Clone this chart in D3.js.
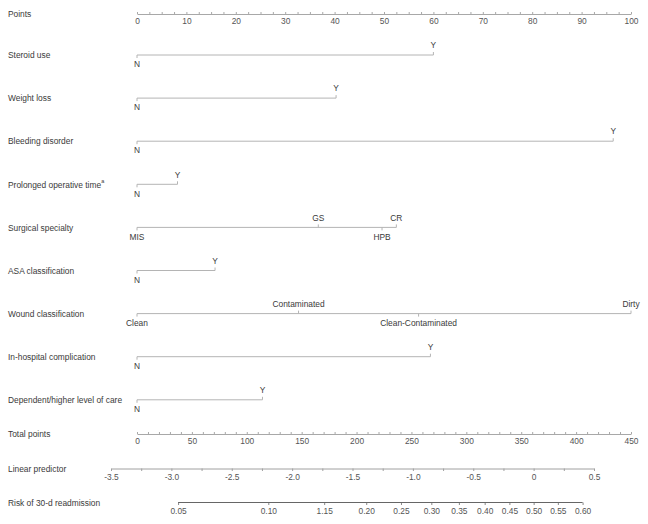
<!DOCTYPE html>
<html>
<head>
<meta charset="utf-8">
<script src="https://cdn.jsdelivr.net/npm/d3@7"></script>
<style>
  html, body { margin: 0; padding: 0; background: #fff; }
  svg { display: block; }
  text { font-family: "Liberation Sans", Arial, sans-serif; }
</style>
</head>
<body>
<svg id="chart" width="648" height="524"></svg>
<script>
// ---------- data ----------
const variableNames = [
  "Steroid use", "Weight loss", "Bleeding disorder", "Prolonged operative time",
  "Surgical specialty", "ASA classification", "Wound classification",
  "In-hospital complication", "Dependent/higher level of care"
];
const variableSuperscripts = ["", "", "", "a", "", "", "", "", ""];
const levelLabels = [
  ["N", "Y"], ["N", "Y"], ["N", "Y"], ["N", "Y"],
  ["MIS", "GS", "HPB", "CR"],
  ["N", "Y"],
  ["Clean", "Contaminated", "Clean-Contaminated", "Dirty"],
  ["N", "Y"], ["N", "Y"]
];
const levelPoints = [
  [0, 60], [0, 40.3], [0, 96.4], [0, 8.2],
  [0, 36.7, 49.6, 52.5],
  [0, 15.8],
  [0, 32.7, 57.0, 100],
  [0, 59.4], [0, 25.4]
];
const pointsTicks = d3.range(0, 100.01, 2.5);
const pointsLabels = d3.range(0, 101, 10);
const totalTicks = d3.range(0, 451, 10);
const totalLabels = d3.range(0, 451, 50);
const lpTicks = d3.range(-3.5, 0.51, 0.25);
const lpLabels = ["-3.5", "-3.0", "-2.5", "-2.0", "-1.5", "-1.0", "-0.5", "0", "0.5"];
const riskValues = [0.05, 0.10, 0.15, 0.20, 0.25, 0.30, 0.35, 0.40, 0.45, 0.50, 0.55, 0.60];
const riskLabels = ["0.05", "0.10", "1.15", "0.20", "0.25", "0.30", "0.35", "0.40", "0.45", "0.50", "0.55", "0.60"];

// ---------- layout ----------
const svg = d3.select("#chart");
const labelX = 8;
const fontSize = 8.4;
const textColor = "#3a3a3a";
const tickTextColor = "#555";
const lineColor = "#b4b4b4";

const xPoints = d3.scaleLinear().domain([0, 100]).range([137, 631]);
const xTotal = d3.scaleLinear().domain([0, 450]).range([137, 631]);
const xLP = d3.scaleLinear().domain([-3.5, 0.5]).range([111, 594]);
const logit = p => Math.log(p / (1 - p));

const yPointsAxis = 14;
const rowY0 = 55, rowStep = 43.1;
const yTotal = 434;
const yLP = 468.5;
const yRisk = 502.5;

function rowLabel(y, name, sup) {
  const t = svg.append("text")
    .attr("x", labelX).attr("y", y + 1)
    .attr("dominant-baseline", "middle")
    .attr("font-size", fontSize)
    .attr("fill", textColor)
    .text(name);
  if (sup) {
    t.append("tspan").attr("font-size", 5.5).attr("dy", -3).text(sup);
  }
}

function styleAxis(g, stroke) {
  g.select(".domain").attr("stroke", stroke).attr("stroke-width", 1);
  g.selectAll(".tick line").attr("stroke", stroke);
  g.selectAll(".tick text")
    .attr("font-size", fontSize)
    .attr("fill", tickTextColor)
    .attr("font-family", '"Liberation Sans", Arial, sans-serif');
}

// Points axis
rowLabel(yPointsAxis, "Points");
const gPts = svg.append("g").attr("transform", `translate(0,${yPointsAxis})`)
  .call(d3.axisBottom(xPoints).tickValues(pointsTicks)
    .tickFormat(d => (d % 10 === 0 ? d3.format("d")(d) : ""))
    .tickSize(-2).tickSizeOuter(0).tickPadding(5));
styleAxis(gPts, "#a8a8a8");
gPts.selectAll(".tick text").attr("dy", "0.71em").attr("y", 4);

// Variable rows
variableNames.forEach((name, i) => {
  const y = rowY0 + i * rowStep;
  rowLabel(y, name, variableSuperscripts[i]);
  const pts = levelPoints[i];
  const labs = levelLabels[i];
  const g = svg.append("g");
  g.append("line")
    .attr("x1", xPoints(d3.min(pts))).attr("x2", xPoints(d3.max(pts)))
    .attr("y1", y).attr("y2", y)
    .attr("stroke", lineColor).attr("stroke-width", 1);
  const order = d3.range(pts.length).sort((a, b) => pts[a] - pts[b]);
  order.forEach((idx, rank) => {
    const above = rank % 2 === 1;
    const x = xPoints(pts[idx]);
    g.append("line")
      .attr("x1", x).attr("x2", x)
      .attr("y1", y).attr("y2", above ? y - 3 : y + 3)
      .attr("stroke", lineColor).attr("stroke-width", 1);
    g.append("text")
      .attr("x", x).attr("y", above ? y - 9 : y + 10)
      .attr("text-anchor", "middle")
      .attr("dominant-baseline", "middle")
      .attr("font-size", fontSize)
      .attr("fill", textColor)
      .text(labs[idx]);
  });
});

// Total points axis
rowLabel(yTotal, "Total points");
const gTot = svg.append("g").attr("transform", `translate(0,${yTotal})`)
  .call(d3.axisBottom(xTotal).tickValues(totalTicks)
    .tickFormat(d => (d % 50 === 0 ? d3.format("d")(d) : ""))
    .tickSize(-2).tickSizeOuter(0));
styleAxis(gTot, "#a8a8a8");
gTot.selectAll(".tick text").attr("dy", "0.71em").attr("y", 4);

// Linear predictor axis
rowLabel(yLP, "Linear predictor");
const gLP = svg.append("g").attr("transform", `translate(0,${yLP})`)
  .call(d3.axisBottom(xLP).tickValues(lpTicks)
    .tickFormat(d => {
      const k = Math.round((d + 3.5) / 0.5 * 1000) / 1000;
      return Number.isInteger(k) ? lpLabels[k] : "";
    })
    .tickSize(2.5).tickSizeOuter(0).tickPadding(3));
styleAxis(gLP, "#a0a0a0");

// Risk axis
rowLabel(yRisk, "Risk of 30-d readmission");
const gRisk = svg.append("g").attr("transform", `translate(0,${yRisk})`)
  .call(d3.axisBottom(xLP).tickValues(riskValues.map(logit))
    .tickFormat((d, i) => riskLabels[i])
    .tickSize(2.5).tickSizeOuter(0).tickPadding(3));
styleAxis(gRisk, "#888");
gRisk.select(".domain").remove();
gRisk.append("line")
  .attr("x1", xLP(logit(riskValues[0])))
  .attr("x2", xLP(logit(riskValues[riskValues.length - 1])))
  .attr("y1", 0).attr("y2", 0)
  .attr("stroke", "#666").attr("stroke-width", 1.2);
</script>
</body>
</html>
